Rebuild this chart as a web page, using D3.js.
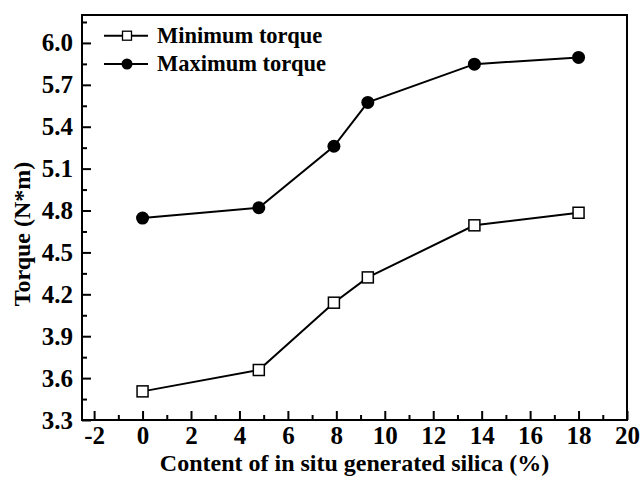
<!DOCTYPE html>
<html lang="en">
<head>
  <meta charset="UTF-8">
  <title>Torque vs in situ silica</title>
  <script src="https://d3js.org/d3.v7.min.js"></script>
  <style>
    body { margin: 0; background: #fff; }
    svg text { font-family: "Liberation Serif", "Times New Roman", serif; font-weight: bold; fill: #000; }
    .axis path { display: none; }
    .axis line { stroke: #000; stroke-width: 2; }
    .axis text { font-size: 25px; }
  </style>
</head>
<body>
  <svg id="svg"></svg>
  <script>
    // silica content (%)
    const silica = [0, 4.8, 7.9, 9.3, 13.7, 18];
    const minTorque = [3.505, 3.658, 4.14, 4.321, 4.694, 4.784];
    const maxTorque = [4.746, 4.82, 5.26, 5.574, 5.848, 5.896];
    const xTicks = [-2, 0, 2, 4, 6, 8, 10, 12, 14, 16, 18, 20];
    const yTicks = [3.3, 3.6, 3.9, 4.2, 4.5, 4.8, 5.1, 5.4, 5.7, 6.0];
    const seriesNames = ["Minimum torque", "Maximum torque"];

    const W = 640, H = 488;
    const margin = { top: 15, right: 13, bottom: 68, left: 82 };
    const width = W - margin.left - margin.right;
    const height = H - margin.top - margin.bottom;

    const svg = d3.select("#svg").attr("width", W).attr("height", H);
    const g = svg.append("g").attr("transform", `translate(${margin.left},${margin.top})`);

    const x = d3.scaleLinear().domain([-2.5, 20]).range([0, width]);
    const y = d3.scaleLinear().domain([3.3, 6.2]).range([height, 0]);

    // minor ticks
    g.append("g").attr("class", "axis")
      .attr("transform", `translate(0,${height})`)
      .call(d3.axisBottom(x).tickValues(d3.range(-1, 20, 2)).tickSize(-5).tickFormat(""));
    g.append("g").attr("class", "axis")
      .call(d3.axisLeft(y).tickValues(yTicks.map(v => v + 0.15)).tickSize(-5).tickFormat(""));

    // major ticks
    g.append("g").attr("class", "axis")
      .attr("transform", `translate(0,${height})`)
      .call(d3.axisBottom(x).tickValues(xTicks).tickSize(-9).tickFormat(d => String(d)))
      .selectAll("text").attr("y", 24).attr("dy", 0);
    g.append("g").attr("class", "axis")
      .call(d3.axisLeft(y).tickValues(yTicks).tickSize(-9).tickFormat(d3.format(".1f")))
      .selectAll("text").attr("x", -9);

    g.append("rect")
      .attr("width", width).attr("height", height)
      .attr("fill", "none").attr("stroke", "#000").attr("stroke-width", 2);

    const line = d3.line().x(d => x(d[0])).y(d => y(d[1]));
    const minData = silica.map((s, i) => [s, minTorque[i]]);
    const maxData = silica.map((s, i) => [s, maxTorque[i]]);

    [minData, maxData].forEach(data => {
      g.append("path").datum(data)
        .attr("d", line)
        .attr("fill", "none").attr("stroke", "#000").attr("stroke-width", 2);
    });

    g.selectAll(".sq").data(minData).enter().append("rect")
      .attr("class", "sq")
      .attr("x", d => x(d[0]) - 5.5).attr("y", d => y(d[1]) - 5.5)
      .attr("width", 11).attr("height", 11)
      .attr("fill", "#fff").attr("stroke", "#000").attr("stroke-width", 1.5);

    g.selectAll(".dot").data(maxData).enter().append("circle")
      .attr("class", "dot")
      .attr("cx", d => x(d[0])).attr("cy", d => y(d[1]))
      .attr("r", 6.5).attr("fill", "#000");

    // legend
    const legend = svg.append("g").attr("transform", "translate(104,0)");
    const rows = [35.7, 64];
    rows.forEach((ry, i) => {
      legend.append("line").attr("x1", 0).attr("x2", 44).attr("y1", ry).attr("y2", ry)
        .attr("stroke", "#000").attr("stroke-width", 2);
      if (i === 0) {
        legend.append("rect").attr("x", 23 - 4.5).attr("y", ry - 4.5).attr("width", 9).attr("height", 9)
          .attr("fill", "#fff").attr("stroke", "#000").attr("stroke-width", 1.3);
      } else {
        legend.append("circle").attr("cx", 23).attr("cy", ry).attr("r", 5.5).attr("fill", "#000");
      }
      legend.append("text").attr("x", 53).attr("y", ry + 7)
        .style("font-size", "22.5px").text(seriesNames[i]);
    });

    // axis titles
    svg.append("text")
      .attr("x", margin.left + width / 2).attr("y", 471)
      .attr("text-anchor", "middle").style("font-size", "24px")
      .text("Content of in situ generated silica (%)");
    svg.append("text")
      .attr("transform", `translate(30,234) rotate(-90)`)
      .attr("text-anchor", "middle").style("font-size", "24px")
      .text("Torque (N*m)");
  </script>
</body>
</html>
